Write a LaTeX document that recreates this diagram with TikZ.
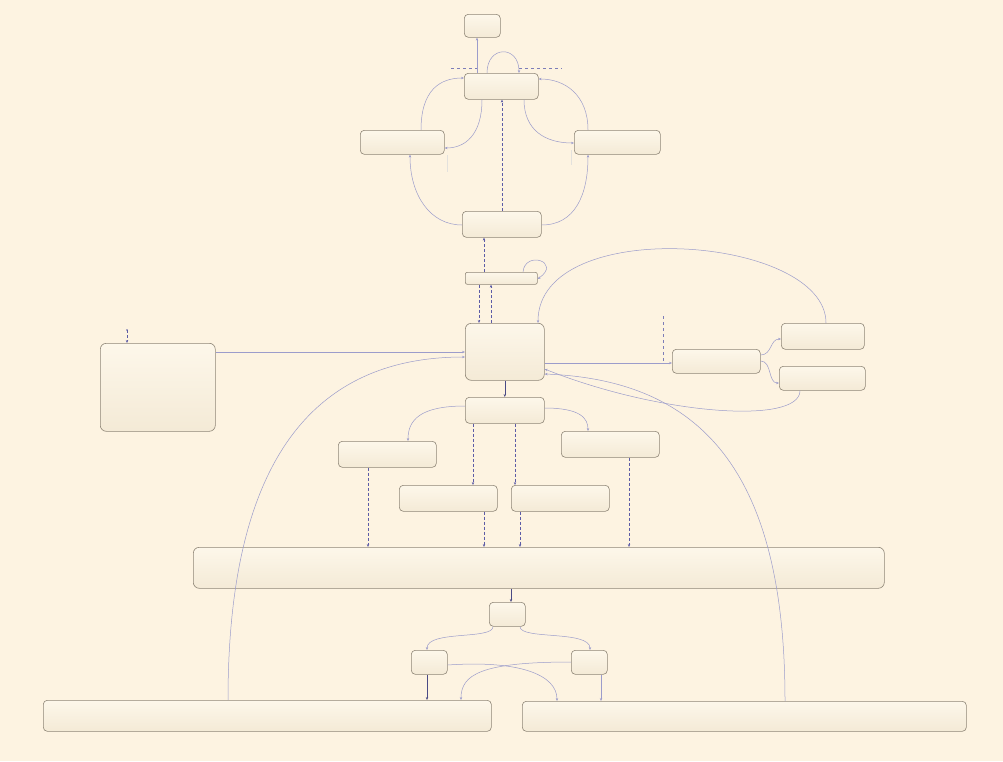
\documentclass[tikz,border=0pt]{standalone}
\usetikzlibrary{arrows.meta,calc}
\definecolor{bg}{HTML}{FDF3E1}
\definecolor{boxtop}{HTML}{FDF7EA}
\definecolor{boxbot}{HTML}{F4EAD6}
\definecolor{boxdraw}{HTML}{8F8677}
\definecolor{ln}{HTML}{9C9CCB}
\definecolor{dk}{HTML}{5C5CA6}
\begin{document}
\begin{tikzpicture}[x=1pt,y=-1pt,
 box/.style={draw=boxdraw, line width=0.6pt, rounded corners=4pt, top color=boxtop, bottom color=boxbot, inner sep=0pt, anchor=north west},
 con/.style={draw=ln, line width=0.5pt, -{Stealth[length=3pt,width=2.4pt]}},
 dcon/.style={draw=dk, line width=0.5pt, densely dashed, -{Stealth[length=3pt,width=2.4pt]}},
 sol/.style={draw=dk!80!black, line width=0.6pt, -{Stealth[length=3pt,width=2.4pt]}},
 guide/.style={draw=dk!80, line width=0.5pt, dashed},
 faint/.style={draw=boxdraw!25, line width=0.8pt}]
\fill[bg] (0,0) rectangle (1003,761);
% nodes
\node[box, minimum width=36pt, minimum height=23pt] (t) at (464,14) {};
\node[box, minimum width=74pt, minimum height=26pt] (A) at (464,73) {};
\node[box, minimum width=84pt, minimum height=24pt] (L) at (360,130) {};
\node[box, minimum width=86pt, minimum height=24pt] (R) at (574,130) {};
\node[box, minimum width=79pt, minimum height=26pt] (B) at (462,211) {};
\node[box, minimum width=72pt, minimum height=12pt, rounded corners=2pt] (th) at (465,272) {};
\node[box, minimum width=79pt, minimum height=57pt, rounded corners=6pt] (M) at (465,323) {};
\node[box, minimum width=115pt, minimum height=88pt, rounded corners=6pt] (LB) at (100,343) {};
\node[box, minimum width=88pt, minimum height=24pt] (mid) at (672,349) {};
\node[box, minimum width=83pt, minimum height=26pt] (R1) at (781,323) {};
\node[box, minimum width=86pt, minimum height=24pt] (R2) at (779,366) {};
\node[box, minimum width=79pt, minimum height=26pt] (C) at (465,397) {};
\node[box, minimum width=98pt, minimum height=26pt] (C1) at (338,441) {};
\node[box, minimum width=98pt, minimum height=26pt] (C2) at (561,431) {};
\node[box, minimum width=98pt, minimum height=26pt] (C3) at (399,485) {};
\node[box, minimum width=98pt, minimum height=26pt] (C4) at (511,485) {};
\node[box, minimum width=691pt, minimum height=41pt, rounded corners=6pt] (W) at (193,547) {};
\node[box, minimum width=36pt, minimum height=24pt] (D) at (489,602) {};
\node[box, minimum width=36pt, minimum height=24pt] (D1) at (411,650) {};
\node[box, minimum width=36pt, minimum height=24pt] (D2) at (571,650) {};
\node[box, minimum width=448pt, minimum height=31pt] (BL) at (43,700) {};
\node[box, minimum width=444pt, minimum height=30pt] (BR) at (522,701) {};
% guide lines
\coordinate (h1a) at (451,68); \coordinate (h1b) at (477,68);
\coordinate (h2a) at (519,68); \coordinate (h2b) at (562,68);
\draw[guide] (h1a) -- (h1b);
\draw[guide] (h2a) -- (h2b);
\coordinate (v1a) at (663,316); \coordinate (v1b) at (663,363);
\draw[guide] (v1a) -- (v1b);
\coordinate (f1a) at (447,155); \coordinate (f1b) at (447,172);
\coordinate (f2a) at (571,150); \coordinate (f2b) at (571,165);
\draw[faint] (f1a) -- (f1b);
\draw[faint] (f2a) -- (f2b);
% top region
\draw[con] ([xshift=13pt]A.north west) -- ([xshift=13pt]t.south west);
\draw[con] ([xshift=23pt]A.north west) .. controls (487,45) and (519,45) .. ([xshift=55pt]A.north west);
\draw[con] ([xshift=61pt]L.north west) .. controls (421,90) and (440,78) .. ([yshift=-5pt]A.north west);
\draw[con] ([xshift=18pt]A.south west) .. controls (482,135) and (465,148) .. ([yshift=-18pt]L.north east);
\draw[con] ([xshift=14pt]R.north west) .. controls (588,95) and (565,79) .. ([yshift=-6pt]A.north east);
\draw[con] ([xshift=60pt]A.south west) .. controls (524,130) and (545,143) .. ([yshift=-13pt]R.north west);
\draw[dcon] ([xshift=40pt]B.north west) -- ([xshift=38pt]A.south west);
\draw[con] ([yshift=-14pt]B.north west) .. controls (430,225) and (410,195) .. ([xshift=50pt]L.south west);
\draw[con] ([yshift=-14pt]B.north east) .. controls (575,225) and (588,195) .. ([xshift=14pt]R.south west);
% thin
\draw[dcon] ([xshift=19pt]th.north west) -- ([xshift=22pt]B.south west);
\draw[con] ([xshift=58pt]th.north west) .. controls (525,250) and (562,262) .. ([yshift=-7pt]th.north east);
\draw[dcon] ([xshift=14pt]th.south west) -- ([xshift=14pt]M.north west);
\draw[dcon] ([xshift=26pt]M.north west) -- ([xshift=26pt]th.south west);
% main region
\draw[con] ([xshift=45pt]R1.north west) .. controls (826,235) and (538,214) .. ([xshift=73pt]M.north west);
\draw[con] ([yshift=-40pt]M.north east) -- ([yshift=-14pt]mid.north west);
\draw[con] ([yshift=-6pt]mid.north east) .. controls (772,355) and (770,339) .. ([yshift=-16pt]R1.north west);
\draw[con] ([yshift=-12pt]mid.north east) .. controls (772,361) and (768,383) .. ([yshift=-17pt]R2.north west);
\draw[con] ([xshift=21pt]R2.south west) .. controls (800,425) and (660,415) .. ([yshift=-46pt]M.north east);
\coordinate (init) at (127,330);
\fill[dk] (init) circle (0.9);
\draw[dcon] (init) -- ([xshift=27pt]LB.north west);
\draw[con] ([yshift=-9pt]LB.north east) -- ([yshift=-29pt]M.north west);
\draw[con] ([xshift=185pt]BL.north west) .. controls (228,480) and (300,357) .. ([yshift=-34pt]M.north west);
\draw[con] ([xshift=263pt]BR.north west) .. controls (785,470) and (700,380) .. ([yshift=-51pt]M.north east);
\draw[sol] (M.south) -- (C.north);
% C region
\draw[con] ([yshift=-9pt]C.north west) .. controls (420,406) and (408,420) .. ([xshift=70pt]C1.north west);
\draw[con] ([yshift=-11pt]C.north east) .. controls (580,408) and (588,418) .. ([xshift=27pt]C2.north west);
\draw[dcon] ([xshift=8pt]C.south west) -- ([xshift=74pt]C3.north west);
\draw[dcon] ([xshift=50pt]C.south west) -- ([xshift=4pt]C4.north west);
\draw[dcon] ([xshift=30pt]C1.south west) -- ([xshift=175pt]W.north west);
\draw[dcon] ([xshift=85pt]C3.south west) -- ([xshift=291pt]W.north west);
\draw[dcon] ([xshift=9pt]C4.south west) -- ([xshift=327pt]W.north west);
\draw[dcon] ([xshift=68pt]C2.south west) -- ([xshift=436pt]W.north west);
% bottom
\draw[sol] ([xshift=318pt]W.south west) -- ([xshift=22pt]D.north west);
\draw[con] ([xshift=4pt]D.south west) .. controls (493,640) and (427,630) .. ([xshift=16pt]D1.north west);
\draw[con] ([xshift=31pt]D.south west) .. controls (520,640) and (590,630) .. ([xshift=19pt]D2.north west);
\draw[sol] ([xshift=16pt]D1.south west) -- ([xshift=384pt]BL.north west);
\draw[con] ([xshift=30pt]D2.south west) -- ([xshift=79pt]BR.north west);
\draw[con] ([yshift=-15pt]D1.north east) .. controls (520,660) and (557,675) .. ([xshift=35pt]BR.north west);
\draw[con] ([yshift=-12pt]D2.north west) .. controls (480,662) and (461,675) .. ([xshift=418pt]BL.north west);
\end{tikzpicture}
\end{document}
